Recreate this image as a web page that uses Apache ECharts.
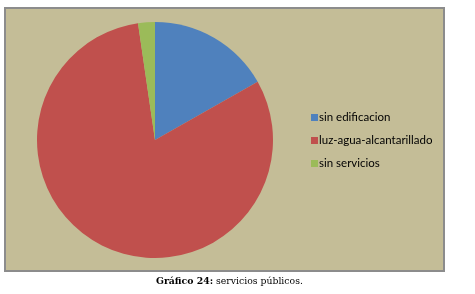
<!DOCTYPE html>
<html>
<head>
<meta charset="utf-8">
<script src="https://cdn.jsdelivr.net/npm/echarts@6/dist/echarts.min.js"></script>
<style>
html,body{margin:0;padding:0;background:#fff;}
#c{width:475px;height:294px;}
</style>
</head>
<body>
<div id="c"></div>
<script>
const categories = ['sin edificacion', 'luz-agua-alcantarillado', 'sin servicios'];
const values = [16.8, 80.9, 2.3];
const colors = ['#4f81bd', '#c0504d', '#9bbb59'];

const chart = echarts.init(document.getElementById('c'), null, {renderer: 'canvas'});
chart.setOption({
  animation: false,
  graphic: [{
    type: 'rect',
    shape: {x: 5, y: 8, width: 439, height: 263},
    style: {fill: '#c4bd97', stroke: '#8c8c8c', lineWidth: 2},
    z: -10
  }],
  title: {
    text: '{b|Gráfico 24:}{n| servicios públicos.}',
    left: 151,
    top: 272,
    textStyle: {
      fontWeight: 'normal',
      rich: {
        b: {fontFamily: 'DejaVu Serif', fontWeight: 'bold', fontSize: 9.3, color: '#000'},
        n: {fontFamily: 'DejaVu Serif', fontWeight: 'normal', fontSize: 9.3, color: '#000'}
      }
    }
  },
  legend: {
    orient: 'vertical',
    left: 306,
    top: 106,
    icon: 'rect',
    itemWidth: 7,
    itemHeight: 7,
    itemGap: 10,
    textStyle: {fontFamily: 'Lato', fontSize: 11.5, color: '#000', padding: [0,0,0,-4], lineHeight: 13},
    data: categories
  },
  series: [{
    type: 'pie',
    center: [155, 140],
    radius: 118,
    startAngle: 90,
    clockwise: true,
    label: {show: false},
    labelLine: {show: false},
    emphasis: {disabled: true},
    itemStyle: {borderWidth: 0},
    data: categories.map((n, i) => ({name: n, value: values[i], itemStyle: {color: colors[i]}}))
  }]
});
</script>
</body>
</html>
